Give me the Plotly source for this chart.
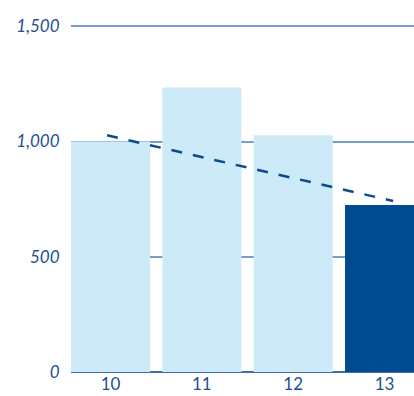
import plotly.graph_objects as go

categories = ["10", "11", "12", "13"]
values = [1000, 1235, 1027, 725]
bar_colors = ["#cceaf7", "#cceaf7", "#cceaf7", "#004a8f"]
trend_x = [-0.038, 3.094]
trend_y = [1027, 742]
y_ticks = [0, 500, 1000, 1500]
y_tick_text = ["0", "500", "1,000", "1,500"]

xpos = list(range(len(categories)))

fig = go.Figure()
fig.add_trace(go.Bar(
    x=xpos, y=values, marker=dict(color=bar_colors, line=dict(width=0)),
    width=0.865, hoverinfo="skip"))
fig.add_trace(go.Scatter(
    x=trend_x, y=trend_y, mode="lines",
    line=dict(color="#0b4a8b", width=2.5, dash="11px,11px"), hoverinfo="skip"))

fig.update_layout(
    width=414, height=396,
    margin=dict(l=71, r=0, t=23.7, b=24, autoexpand=False),
    plot_bgcolor="white", paper_bgcolor="white",
    showlegend=False,
    xaxis=dict(range=[-0.433, 3.323], tickvals=xpos, ticktext=categories,
               showgrid=False, zeroline=False, showline=False, automargin=False,
               ticks="", ticklen=0,
               tickfont=dict(family="Lato", size=17, color="#1d4f91")),
    yaxis=dict(range=[0, 1510], tickvals=y_ticks, ticktext=y_tick_text,
               showgrid=True, gridcolor="#7a9cc6", gridwidth=1.5, automargin=False,
               zeroline=True, zerolinecolor="#3f6fab", zerolinewidth=2,
               showline=False, ticks="outside", ticklen=7,
               tickcolor="rgba(0,0,0,0)",
               tickfont=dict(family="Lato", size=17, color="#1d4f91", style="italic")),
)

fig.write_html("out.html")
